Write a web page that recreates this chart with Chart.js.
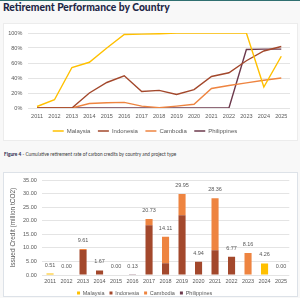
<!DOCTYPE html>
<html>
<head>
<meta charset="utf-8">
<script src="https://cdn.jsdelivr.net/npm/chart.js@4.4.1/dist/chart.umd.min.js"></script>
<style>
  html, body { margin: 0; padding: 0; }
  body { width: 300px; height: 298px; background: #f8f8f8; position: relative; overflow: hidden; font-family: "Lato", sans-serif; }
  .topline { position: absolute; left: 0; top: 0; width: 300px; height: 1px; background: #2f6f70; }
  .title { position: absolute; left: 3px; top: 1px; font-size: 10.3px; font-weight: 900; color: #1e2747; white-space: nowrap; }
  .panel { position: absolute; background: #ffffff; border: 1px solid #ececec; box-sizing: border-box; }
  .caption { position: absolute; left: 4px; top: 151px; font-size: 4.75px; color: #3a3a3a; white-space: nowrap; }
  .caption b { color: #1e2747; }
  .wrap { position: absolute; }
</style>
</head>
<body>
<div class="topline"></div>
<div class="title">Retirement Performance by Country</div>
<div class="panel" style="left:3px; top:23px; width:295px; height:118px;"></div>
<div class="wrap" style="left:0; top:23px; width:300px; height:117px;"><canvas id="lineChart"></canvas></div>
<div class="caption"><b>Figure 4</b> - Cumulative retirement rate of carbon credits by country and project type</div>
<div class="panel" style="left:3px; top:172px; width:295px; height:125px; border-color:#dde2e8;"></div>
<div class="wrap" style="left:0; top:172px; width:300px; height:125px;"><canvas id="barChart"></canvas></div>

<script>
// Categories
const years = ['2011', '2012', '2013', '2014', '2015', '2016', '2017', '2018', '2019', '2020', '2021', '2022', '2023', '2024', '2025'];
const countries = ['Malaysia', 'Indonesia', 'Cambodia', 'Philippines'];
const countryColors = ['#ffc000', '#a3482c', '#ee8440', '#6d3a4d'];

// Cumulative retirement rate (%)
const rateMalaysia    = [2, 11, 54, 61, 80, 98, 98.5, 99, 100, 100, 100, 100, 100, 28, 69];
const rateIndonesia   = [0, 0, 0, 20, 34, 43, 22, 23.5, 18, 24.5, 42, 47, 63, 76, 82];
const rateCambodia    = [0, 0, 0, 6, 7, 7.5, 2.5, 0.5, 2.5, 5, 26, 30, 33.5, 37, 40];
const ratePhilippines = [0, 0, 0, 0, 0, 0, 0, 0, 0, 0, 0, 0, 78, 78.5, 78.5];

// Issued credits (million tCO2)
const issuedMalaysia    = [0.51, 0, 0, 0, 0, 0, 0, 0, 0, 0, 0, 0, 0, 4.26, 0];
const issuedIndonesia   = [0, 0, 9.2, 1.67, 0, 0, 18.4, 4.3, 22.1, 4.94, 9.15, 6.77, 0, 0, 0];
const issuedCambodia    = [0, 0, 0.41, 0, 0, 0, 2.33, 9.81, 7.85, 0, 19.21, 0, 8.16, 0, 0];
const issuedPhilippines = [0, 0, 0, 0, 0, 0.13, 0, 0, 0, 0, 0, 0, 0, 0, 0];

// Axis ticks
const rateTicks = [0, 20, 40, 60, 80, 100];
const issuedTicks = [0, 5, 10, 15, 20, 25, 30, 35];

const tickColor = '#595959';
const gridColor = '#e4e4e4';
const chartFont = 'Liberation Sans';

// Line chart: retirement performance
const rateSeries = [rateMalaysia, rateIndonesia, rateCambodia, ratePhilippines];
new Chart(document.getElementById('lineChart'), {
    type: 'line',
    data: {
        labels: years,
        datasets: countries.map((c, i) => ({
            label: c,
            data: rateSeries[i],
            borderColor: countryColors[i],
            backgroundColor: countryColors[i],
            borderWidth: 1.4,
            pointRadius: 0,
            tension: 0
        }))
    },
    options: {
        responsive: true,
        maintainAspectRatio: false,
        animation: false,
        layout: { padding: { top: 10, right: 10, left: 0, bottom: 0 } },
        plugins: {
            legend: {
                position: 'bottom',
                maxHeight: 19.5,
                labels: {
                    usePointStyle: true,
                    pointStyle: 'line',
                    pointStyleWidth: 11,
                    color: tickColor,
                    padding: 7.5,
                    font: { family: chartFont, size: 6 }
                }
            },
            tooltip: { enabled: false }
        },
        scales: {
            x: {
                offset: true,
                grid: { display: false, drawTicks: false },
                border: { display: false },
                ticks: { color: tickColor, font: { family: chartFont, size: 5.5 }, padding: 5.5, maxRotation: 0, autoSkip: false },
                afterFit: (s) => { s.height = 12.5; }
            },
            y: {
                min: 0,
                max: 100,
                afterBuildTicks: (s) => { s.ticks = rateTicks.map(v => ({ value: v })); },
                grid: { color: gridColor, drawTicks: false },
                border: { display: false },
                ticks: { color: tickColor, font: { family: chartFont, size: 5.5 }, padding: 6, callback: (v) => v + '%' },
                afterFit: (s) => { s.width = 28.3; }
            }
        }
    }
});

// Total labels above each stacked bar
const totalLabels = {
    id: 'totalLabels',
    afterDatasetsDraw(chart) {
        const ctx = chart.ctx;
        const xs = chart.scales.x, ys = chart.scales.y;
        ctx.save();
        ctx.fillStyle = tickColor;
        ctx.font = '5.5px "' + chartFont + '"';
        ctx.textAlign = 'center';
        ctx.textBaseline = 'middle';
        years.forEach((y, i) => {
            const total = chart.data.datasets.reduce((a, d) => a + d.data[i], 0);
            ctx.fillText(total.toFixed(2), xs.getPixelForValue(i), ys.getPixelForValue(total) - 8.5);
        });
        ctx.restore();
    }
};

// Stacked bar chart: issued credits
const issuedSeries = [issuedMalaysia, issuedIndonesia, issuedCambodia, issuedPhilippines];
new Chart(document.getElementById('barChart'), {
    type: 'bar',
    data: {
        labels: years,
        datasets: countries.map((c, i) => ({
            label: c,
            data: issuedSeries[i],
            backgroundColor: countryColors[i],
            borderWidth: 0,
            categoryPercentage: 1,
            barPercentage: 0.43
        }))
    },
    options: {
        responsive: true,
        maintainAspectRatio: false,
        animation: false,
        layout: { padding: { top: 7, right: 10.7, left: 0, bottom: 0 } },
        plugins: {
            legend: {
                position: 'bottom',
                maxHeight: 11.75,
                labels: {
                    boxWidth: 3,
                    boxHeight: 3,
                    color: tickColor,
                    padding: 5,
                    font: { family: chartFont, size: 5.5 }
                }
            },
            tooltip: { enabled: false }
        },
        scales: {
            x: {
                stacked: true,
                grid: { display: false, drawTicks: false },
                border: { display: false },
                ticks: { color: tickColor, font: { family: chartFont, size: 5.5 }, padding: 3, maxRotation: 0, autoSkip: false },
                afterFit: (s) => { s.height = 10.25; }
            },
            y: {
                stacked: true,
                min: 0,
                max: 35,
                afterBuildTicks: (s) => { s.ticks = issuedTicks.map(v => ({ value: v })); },
                grid: { color: gridColor, drawTicks: false },
                border: { display: false },
                title: { display: true, text: 'Issued Credit (million tCO2)', color: tickColor, font: { family: chartFont, size: 6.5 }, padding: { top: 9, bottom: 0 } },
                ticks: { color: tickColor, font: { family: chartFont, size: 5.5 }, padding: 5, callback: (v) => v.toFixed(2) },
                afterFit: (s) => { s.width = 41.8; }
            }
        }
    },
    plugins: [totalLabels]
});
</script>
</body>
</html>
